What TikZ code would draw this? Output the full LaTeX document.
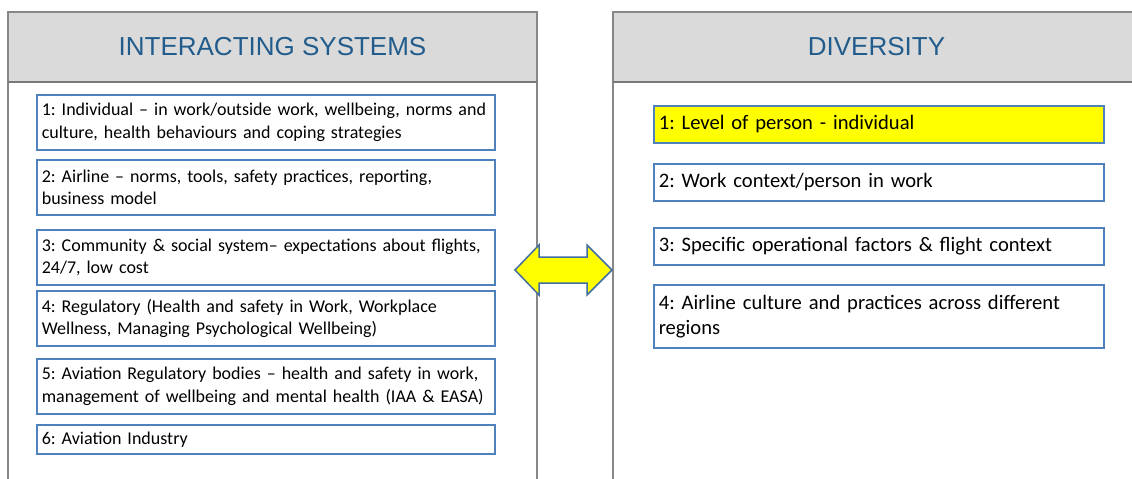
\documentclass[tikz,border=0pt]{standalone}
\usepackage{fontspec}
\setmainfont{Carlito}
\newfontfamily\hdfont{Liberation Sans}
\definecolor{hdblue}{RGB}{33,92,140}
\definecolor{boxblue}{RGB}{79,129,189}
\definecolor{framegray}{RGB}{135,135,135}
\definecolor{hdfill}{RGB}{218,218,218}
\definecolor{hlyellow}{RGB}{255,255,0}
\frenchspacing
\hyphenpenalty=10000
\exhyphenpenalty=10000
\tikzset{
  framel/.style={draw=framegray, line width=1.6pt},
  hdrbox/.style={fill=hdfill, draw=framegray!70, line width=1pt},
  hdtext/.style={text=hdblue, font=\hdfont\fontsize{26}{30}\selectfont, inner sep=0pt},
  lbox/.style={draw=boxblue, line width=1.6pt, fill=white, anchor=north west,
    inner xsep=5pt, inner ysep=0pt, text width=448pt, align=left,
    font=\fontsize{18}{22.5}\selectfont},
  rbox/.style={draw=boxblue, line width=1.6pt, fill=white, anchor=north west,
    inner xsep=5pt, inner ysep=0pt, text width=440pt, align=left,
    font=\fontsize{20.6}{25}\selectfont},
  dblarrow/.style={fill=hlyellow, draw=boxblue!85!black, line width=1.5pt, line join=miter}
}
\begin{document}
\begin{tikzpicture}[x=1pt,y=-1pt]
\useasboundingbox (0,0) rectangle (1132,479);
\clip (0,0) rectangle (1132,479);
\fill[white] (0,0) rectangle (1132,479);
% left panel
\fill[hdrbox] (8,12) rectangle (537,82);
\draw[framel] (8,500) -- (8,12) -- (537,12) -- (537,500);
\draw[framel, framegray!90!black, line width=2pt] (8,82) -- (537,82);
\node[hdtext] (hL) at (272.5,47) {INTERACTING SYSTEMS};
% right panel
\fill[hdrbox] (613,12) rectangle (1150,82);
\draw[framel] (613,500) -- (613,12) -- (1150,12);
\draw[framel, framegray!90!black, line width=2pt] (613,82) -- (1150,82);
\node[hdtext] (hR) at (876.5,47) {DIVERSITY};
% left boxes
\node[lbox, minimum height=55pt] (l1) at (36,94) {1: Individual – in work/outside work, wellbeing, norms and culture, health behaviours and coping strategies};
\node[lbox, minimum height=55pt] (l2) at (36,159) {2: Airline – norms, tools, safety practices, reporting, business model};
\node[lbox, minimum height=55pt] (l3) at (36,229) {3: Community \& social system– expectations about flights, 24/7, low cost};
\node[lbox, minimum height=55pt] (l4) at (36,290) {4: Regulatory (Health and safety in Work, Workplace Wellness, Managing Psychological Wellbeing)};
\node[lbox, minimum height=55pt] (l5) at (36,358) {5: Aviation Regulatory bodies – health and safety in work, management of wellbeing and mental health (IAA \& EASA)};
\node[lbox, minimum height=29pt] (l6) at (36,424) {6: Aviation Industry};
% right boxes
\node[rbox, fill=hlyellow, minimum height=37pt] (r1) at (653,105) {1: Level of person - individual};
\node[rbox, minimum height=37pt] (r2) at (653,163) {2: Work context/person in work};
\node[rbox, minimum height=37pt] (r3) at (653,227) {3: Specific operational factors \& flight context};
\node[rbox, minimum height=63pt] (r4) at (653,284) {4: Airline culture and practices across different regions};
% double arrow
\coordinate (aL) at (515,270);
\coordinate (aR) at (612,270);
\draw[dblarrow] (aL) -- (539,245) -- (539,257) -- (587,257) -- (587,245) -- (aR)
  -- (587,295) -- (587,283) -- (539,283) -- (539,295) -- cycle;
\end{tikzpicture}
\end{document}
